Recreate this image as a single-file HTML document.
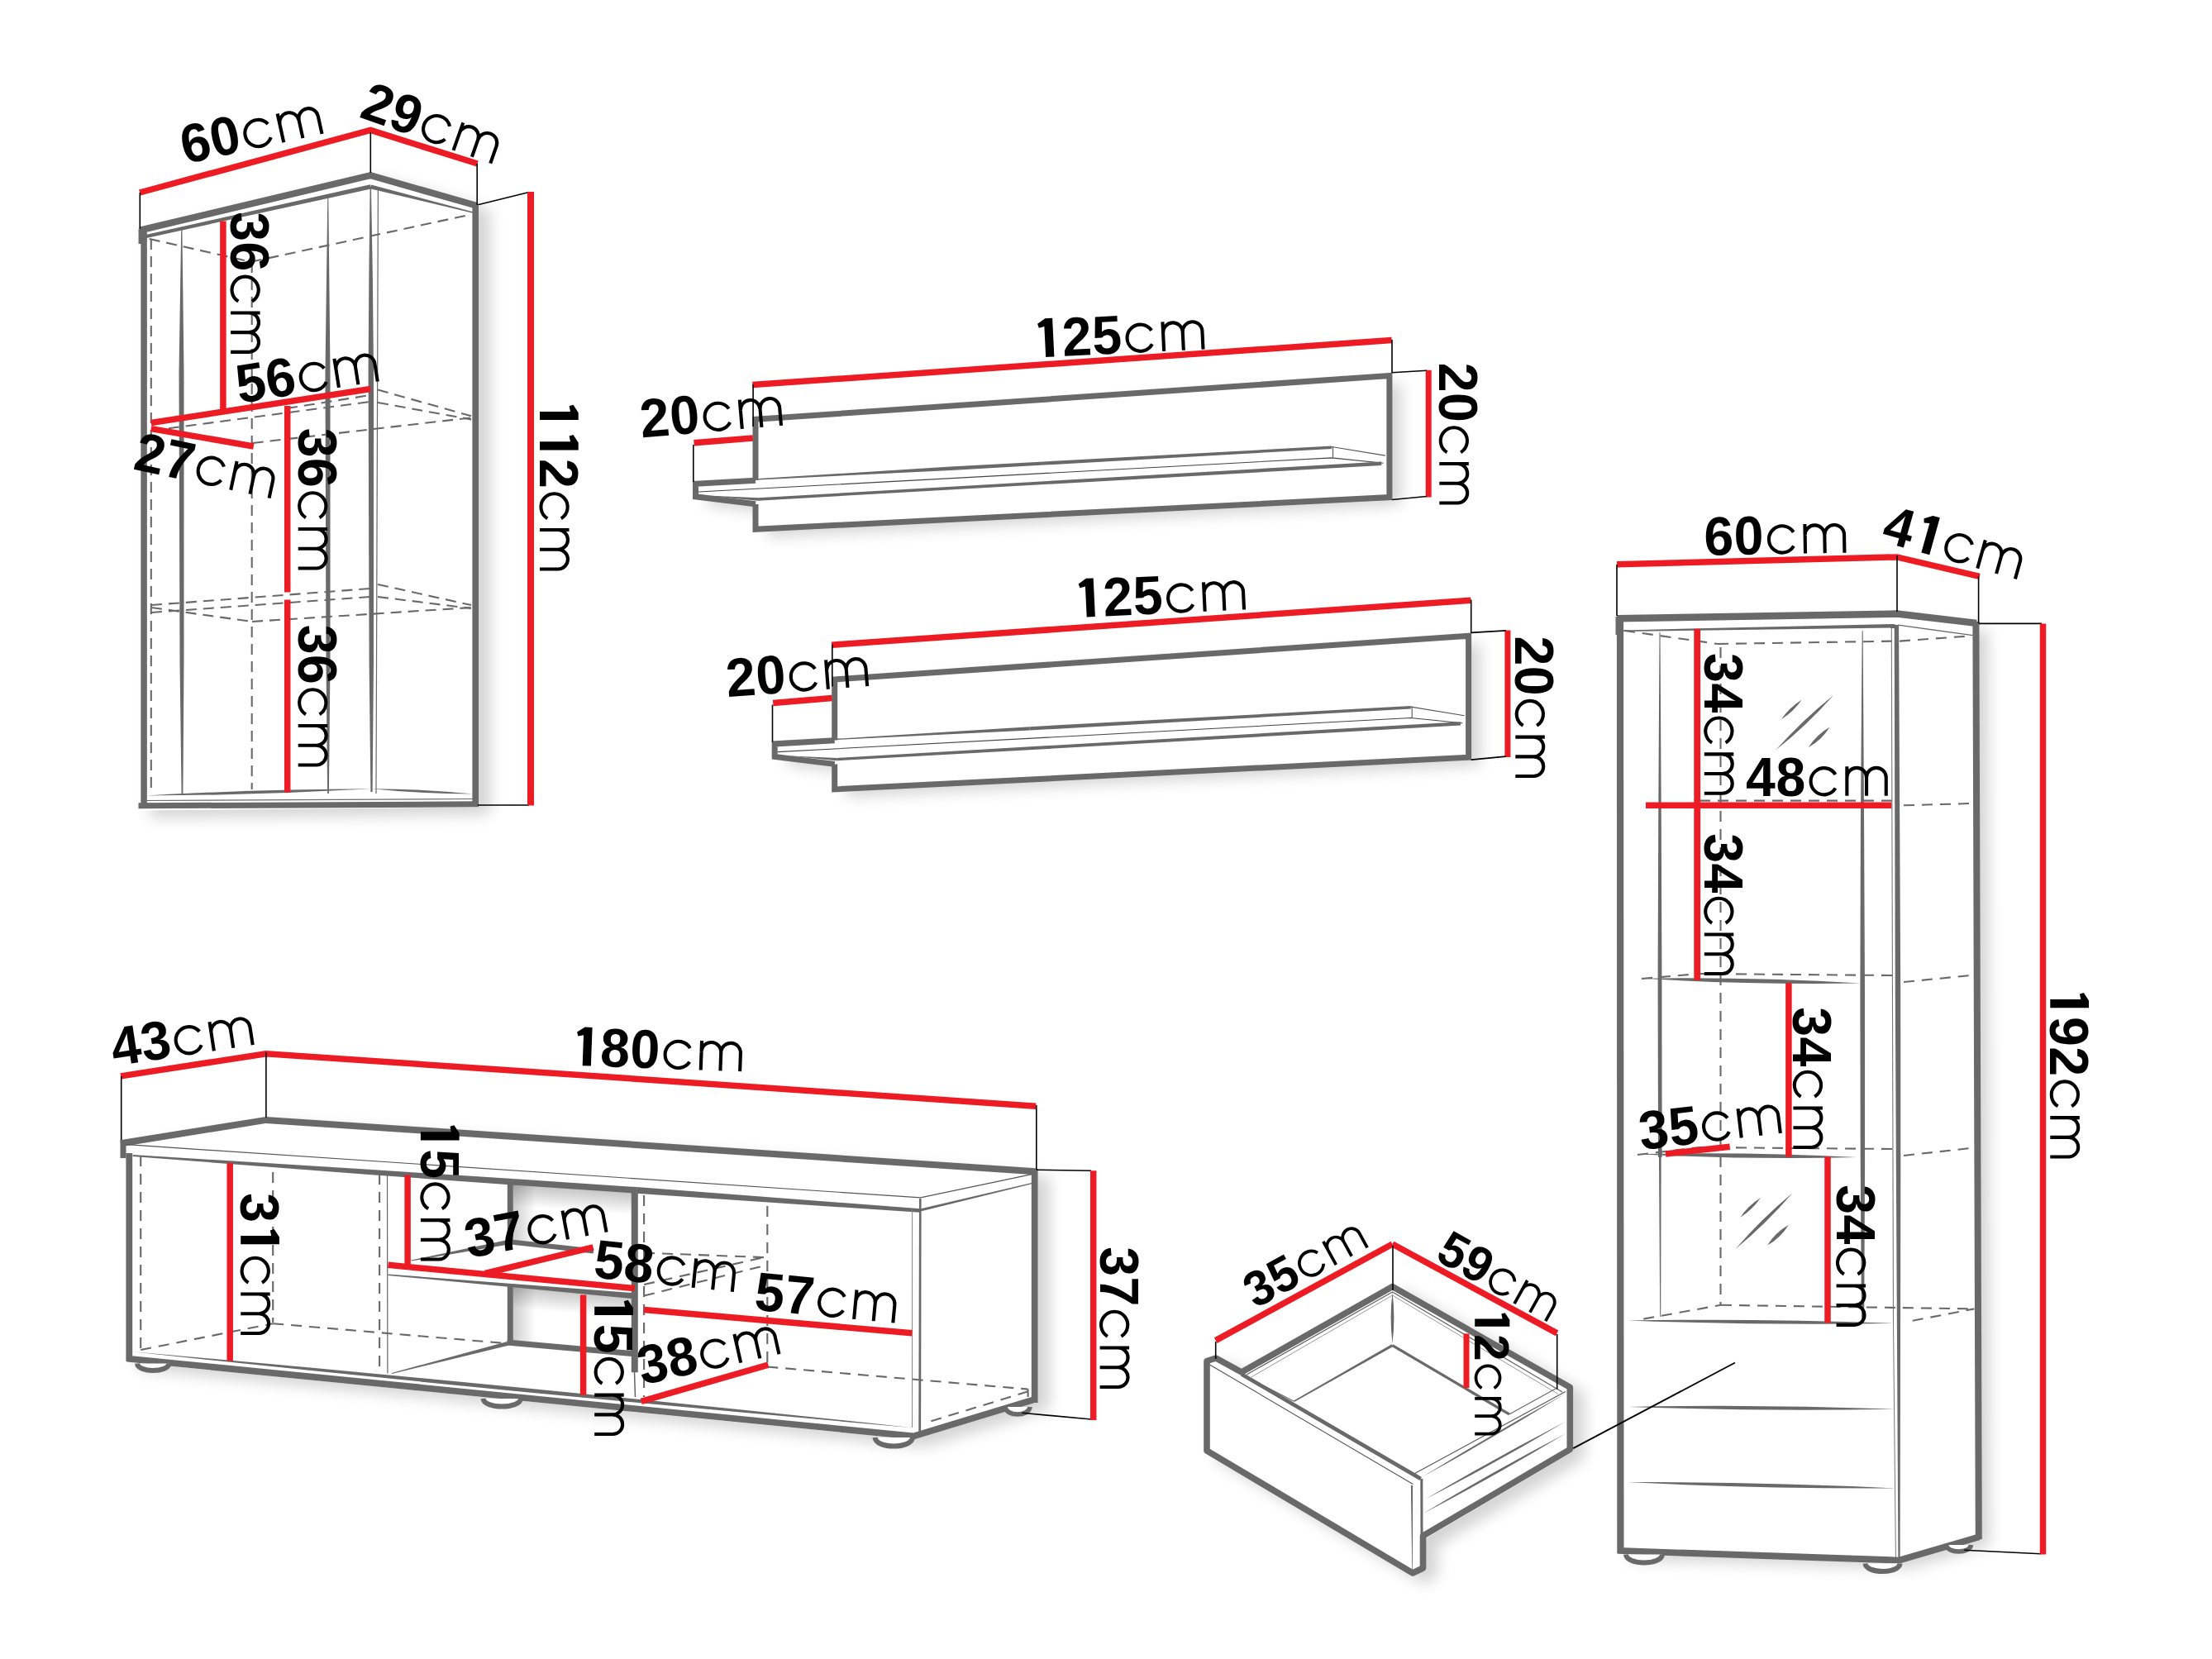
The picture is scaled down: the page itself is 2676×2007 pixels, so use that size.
<!DOCTYPE html>
<html><head><meta charset="utf-8"><title>Furniture dimensions</title>
<style>
html,body{margin:0;padding:0;background:#fff;}
body{width:2676px;height:2007px;overflow:hidden;}
svg{display:block;font-family:"Liberation Sans",sans-serif;fill:#000;}
</style></head><body>
<svg xmlns="http://www.w3.org/2000/svg" width="2676" height="2007" viewBox="0 0 2676 2007">
<defs>

<filter id="thin" x="-5%" y="-5%" width="110%" height="110%"><feGaussianBlur stdDeviation="0.9"/><feComponentTransfer><feFuncA type="linear" slope="3.5" intercept="-2.3"/></feComponentTransfer></filter>
<linearGradient id="gTop" gradientUnits="userSpaceOnUse" x1="620" y1="1433.5" x2="618.2" y2="1459.5"><stop offset="0" stop-color="#000" stop-opacity="0.22"/><stop offset="1" stop-color="#000" stop-opacity="0"/></linearGradient>
<linearGradient id="gTop2" gradientUnits="userSpaceOnUse" x1="620" y1="1557" x2="618" y2="1583"><stop offset="0" stop-color="#000" stop-opacity="0.22"/><stop offset="1" stop-color="#000" stop-opacity="0"/></linearGradient>
<linearGradient id="gLeft" gradientUnits="userSpaceOnUse" x1="620" y1="0" x2="648" y2="0"><stop offset="0" stop-color="#000" stop-opacity="0.2"/><stop offset="1" stop-color="#000" stop-opacity="0"/></linearGradient>
<linearGradient id="shR" x1="0" x2="1" y1="0" y2="0"><stop offset="0" stop-color="#000" stop-opacity="0.28"/><stop offset="1" stop-color="#000" stop-opacity="0"/></linearGradient>
<linearGradient id="shD" x1="0" x2="0" y1="0" y2="1"><stop offset="0" stop-color="#000" stop-opacity="0.25"/><stop offset="1" stop-color="#000" stop-opacity="0"/></linearGradient>
<filter id="blur6" x="-20%" y="-20%" width="140%" height="140%"><feGaussianBlur stdDeviation="6"/></filter>
<filter id="blur10" x="-30%" y="-60%" width="160%" height="220%"><feGaussianBlur stdDeviation="9"/></filter>

</defs>
<polygon points="167.5,275 448.3,208 579,245 579,976.5 167.5,980.5" fill="#000" opacity="0.17" filter="url(#blur10)" transform="translate(14,9)"/>
<polygon points="914,507 1681,454.6 1681,601.6 914,640.3 914,611 841.5,601.5 841.5,585 914,581" fill="#000" opacity="0.17" filter="url(#blur10)" transform="translate(14,9)"/>
<polygon points="1009.7,821.6 1776.7,769.2 1776.7,916.2 1009.7,954.9 1009.7,925.6 937.2,916.1 937.2,899.6 1009.7,895.6" fill="#000" opacity="0.17" filter="url(#blur10)" transform="translate(14,9)"/>
<polygon points="145.5,1380 322,1351 1255.5,1414 1255.5,1696 1105,1741.5 152.5,1647.5" fill="#000" opacity="0.17" filter="url(#blur10)" transform="translate(14,9)"/>
<polygon points="1956,748 2295,742.6 2391,754 2393,1860 2297.5,1888 1957,1878" fill="#000" opacity="0.17" filter="url(#blur10)" transform="translate(14,9)"/>
<polygon points="1456.5,1645 1471,1639 1502,1656 1684.5,1552 1903,1676 1903,1756 1725,1861 1725,1899 1709,1907 1456.5,1757" fill="#000" opacity="0.17" filter="url(#blur10)" transform="translate(14,9)"/>
<polygon points="167.5,275 448.3,208 579,245 579,976.5 167.5,980.5" fill="#fff"/>
<polygon points="914,507 1681,454.6 1681,601.6 914,640.3 914,611 841.5,601.5 841.5,585 914,581" fill="#fff"/>
<polygon points="1009.7,821.6 1776.7,769.2 1776.7,916.2 1009.7,954.9 1009.7,925.6 937.2,916.1 937.2,899.6 1009.7,895.6" fill="#fff"/>
<polygon points="145.5,1380 322,1351 1255.5,1414 1255.5,1696 1105,1741.5 152.5,1647.5" fill="#fff"/>
<polygon points="1956,748 2295,742.6 2391,754 2393,1860 2297.5,1888 1957,1878" fill="#fff"/>
<polygon points="1456.5,1645 1471,1639 1502,1656 1684.5,1552 1903,1676 1903,1756 1725,1861 1725,1899 1709,1907 1456.5,1757" fill="#fff"/>
<polygon points="620.8,1432 764,1441.5 764,1513 620.8,1501" fill="url(#gTop)"/>
<polygon points="620.8,1432 764,1441.5 764,1513 620.8,1501" fill="url(#gLeft)"/>
<polygon points="620.8,1556 764,1567 764,1636 620.8,1623" fill="url(#gTop2)"/>
<polygon points="620.8,1556 764,1567 764,1636 620.8,1623" fill="url(#gLeft)"/>
<polyline points="169.5,278.5 448.3,212.2 577.3,249" fill="none" stroke="#696969" stroke-width="8" stroke-linejoin="miter" stroke-linecap="butt"/>
<polygon points="175.0,288.4 448.9,228.4 447.7,223.2 174.2,284.6" fill="#696969"/>
<polygon points="447.7,228.2 571.8,257.7 572.2,256.3 448.9,223.4" fill="#696969"/>
<line x1="171.3" y1="277" x2="171.3" y2="295" stroke="#696969" stroke-width="7.5" stroke-linecap="butt"/>
<line x1="174.1" y1="281" x2="174.1" y2="977" stroke="#696969" stroke-width="7.5" stroke-linecap="butt"/>
<line x1="575.2" y1="249" x2="575.2" y2="975" stroke="#696969" stroke-width="7.6" stroke-linecap="butt"/>
<line x1="167.5" y1="974.8" x2="579" y2="972.8" stroke="#696969" stroke-width="7" stroke-linecap="butt"/>
<polygon points="447.6,228.0 446.4,330.0 450.8,330.0 449.0,228.0" fill="#696969"/>
<polygon points="446.4,330.0 445.6,450.0 452.0,450.0 450.8,330.0" fill="#696969"/>
<polygon points="445.6,450.0 446.6,800.0 452.0,800.0 452.0,450.0" fill="#696969"/>
<polygon points="446.6,800.0 448.4,958.0 450.6,958.0 452.0,800.0" fill="#696969"/>
<line x1="457.4" y1="230" x2="455" y2="960" stroke="#696969" stroke-width="1.2" stroke-linecap="butt"/>
<polygon points="219.2,277.0 216.5,450.0 222.5,450.0 220.4,277.0" fill="#696969"/>
<polygon points="216.5,450.0 217.5,800.0 222.5,800.0 222.5,450.0" fill="#696969"/>
<polygon points="217.5,800.0 219.6,962.0 221.4,962.0 222.5,800.0" fill="#696969"/>
<polygon points="396.3,239.0 393.5,450.0 399.5,450.0 397.3,239.0" fill="#696969"/>
<polygon points="393.5,450.0 394.5,800.0 399.5,800.0 399.5,450.0" fill="#696969"/>
<polygon points="394.5,800.0 396.1,960.0 397.9,960.0 399.5,800.0" fill="#696969"/>
<path d="M176.0,962.5 Q312.9,962.0 449.5,954.3 Q312.6,954.8 176.0,962.5Z" fill="#696969"/>
<path d="M449.5,954.3 Q510.6,960.4 572.0,960.5 Q510.9,954.4 449.5,954.3Z" fill="#696969"/>
<line x1="174" y1="968.5" x2="572" y2="966.5" stroke="#696969" stroke-width="1.2" stroke-linecap="butt"/>
<line x1="182.8" y1="289" x2="182.8" y2="955" stroke="#696969" stroke-width="2.1" stroke-linecap="butt" stroke-dasharray="13 8"/>
<line x1="180.7" y1="289" x2="303.7" y2="316.8" stroke="#696969" stroke-width="2.1" stroke-linecap="butt" stroke-dasharray="13 8"/>
<line x1="303.7" y1="316.8" x2="570" y2="259.4" stroke="#696969" stroke-width="2.1" stroke-linecap="butt" stroke-dasharray="13 8"/>
<line x1="304.7" y1="317" x2="304.7" y2="955" stroke="#696969" stroke-width="2.1" stroke-linecap="butt" stroke-dasharray="13 8"/>
<line x1="183" y1="521" x2="448" y2="486" stroke="#696969" stroke-width="2.1" stroke-linecap="butt" stroke-dasharray="13 8"/>
<line x1="457" y1="471.5" x2="570" y2="503.3" stroke="#696969" stroke-width="2.1" stroke-linecap="butt" stroke-dasharray="13 8"/>
<line x1="457" y1="487" x2="570" y2="507.4" stroke="#696969" stroke-width="2.1" stroke-linecap="butt" stroke-dasharray="13 8"/>
<line x1="305.7" y1="536" x2="570" y2="505.3" stroke="#696969" stroke-width="2.1" stroke-linecap="butt" stroke-dasharray="13 8"/>
<line x1="347" y1="494" x2="448" y2="478" stroke="#696969" stroke-width="2.1" stroke-linecap="butt" stroke-dasharray="13 8"/>
<line x1="183" y1="732" x2="448" y2="712" stroke="#696969" stroke-width="2.1" stroke-linecap="butt" stroke-dasharray="13 8"/>
<line x1="183" y1="741" x2="448" y2="722" stroke="#696969" stroke-width="2.1" stroke-linecap="butt" stroke-dasharray="13 8"/>
<line x1="457" y1="707" x2="570" y2="732" stroke="#696969" stroke-width="2.1" stroke-linecap="butt" stroke-dasharray="13 8"/>
<line x1="457" y1="722" x2="570" y2="736" stroke="#696969" stroke-width="2.1" stroke-linecap="butt" stroke-dasharray="13 8"/>
<line x1="183" y1="735" x2="305" y2="752" stroke="#696969" stroke-width="2.1" stroke-linecap="butt" stroke-dasharray="13 8"/>
<line x1="305" y1="752" x2="570" y2="735" stroke="#696969" stroke-width="2.1" stroke-linecap="butt" stroke-dasharray="13 8"/>
<polyline points="914,581 914,507.3 1680.9,454.6 1680.9,601.6 914,640.3 914,610" fill="none" stroke="#696969" stroke-width="7" stroke-linejoin="miter" stroke-linecap="butt"/>
<polyline points="914,581.2 841.5,585.3 841.5,600.8 914,609.8" fill="none" stroke="#696969" stroke-width="7" stroke-linejoin="miter" stroke-linecap="butt"/>
<polygon points="917.2,580.4 1150.1,569.0 1149.9,564.6 917.2,579.0" fill="#696969"/>
<polygon points="1150.1,569.0 1611.2,542.9 1611.0,539.5 1149.9,564.6" fill="#696969"/>
<polyline points="845,595 1611.1,553.9 1673.5,560.2" fill="none" stroke="#444" stroke-width="1.1" stroke-linejoin="miter" stroke-linecap="butt"/>
<line x1="1611.1" y1="540.5" x2="1675.8" y2="551.1" stroke="#555" stroke-width="1.1" stroke-linecap="butt"/>
<line x1="1612.5" y1="540" x2="1612.5" y2="553.5" stroke="#555" stroke-width="1.1" stroke-linecap="butt"/>
<polygon points="861.0,600.2 916.9,605.7 917.1,602.3 861.0,599.8" fill="#696969"/>
<polygon points="917.1,605.7 1671.3,563.0 1671.1,558.6 916.9,602.3" fill="#696969"/>
<polyline points="1009.7,895.6 1009.7,821.9000000000001 1776.6000000000001,769.2 1776.6000000000001,916.2 1009.7,954.9 1009.7,924.6" fill="none" stroke="#696969" stroke-width="7" stroke-linejoin="miter" stroke-linecap="butt"/>
<polyline points="1009.7,895.8000000000001 937.2,899.9 937.2,915.4 1009.7,924.4" fill="none" stroke="#696969" stroke-width="7" stroke-linejoin="miter" stroke-linecap="butt"/>
<polygon points="1012.9,895.0 1245.8,883.6 1245.6,879.2 1012.9,893.6" fill="#696969"/>
<polygon points="1245.8,883.6 1706.9,857.5 1706.7,854.1 1245.6,879.2" fill="#696969"/>
<polyline points="940.7,909.6 1706.8,868.5 1769.2,874.8000000000001" fill="none" stroke="#444" stroke-width="1.1" stroke-linejoin="miter" stroke-linecap="butt"/>
<line x1="1706.8" y1="855.1" x2="1771.5" y2="865.7" stroke="#555" stroke-width="1.1" stroke-linecap="butt"/>
<line x1="1708.2" y1="854.6" x2="1708.2" y2="868.1" stroke="#555" stroke-width="1.1" stroke-linecap="butt"/>
<polygon points="956.7,914.8 1012.6,920.3 1012.8,916.9 956.7,914.4" fill="#696969"/>
<polygon points="1012.8,920.3 1767.0,877.6 1766.8,873.2 1012.6,916.9" fill="#696969"/>
<polyline points="146,1383.3 321.9,1354.9 1252.6,1417.3" fill="none" stroke="#696969" stroke-width="8" stroke-linejoin="miter" stroke-linecap="butt"/>
<line x1="149" y1="1379.5" x2="149" y2="1401" stroke="#696969" stroke-width="7" stroke-linecap="butt"/>
<line x1="156.3" y1="1395" x2="156.3" y2="1647" stroke="#696969" stroke-width="7.8" stroke-linecap="butt"/>
<polyline points="153.9,1643.6 1105,1737.5 1250,1693.6" fill="none" stroke="#696969" stroke-width="7.8" stroke-linejoin="miter" stroke-linecap="butt"/>
<line x1="1251.7" y1="1414" x2="1251.7" y2="1697" stroke="#696969" stroke-width="7.8" stroke-linecap="butt"/>
<polyline points="153.9,1384.7 1113.6,1448.9 1248.1,1420.7" fill="none" stroke="#555" stroke-width="1.2" stroke-linejoin="miter" stroke-linecap="butt"/>
<polygon points="160.6,1399.0 449.8,1421.3 450.2,1415.1 160.8,1397.0" fill="#696969"/>
<polygon points="449.8,1421.3 619.7,1433.5 620.3,1425.9 450.2,1415.1" fill="#696969"/>
<polygon points="619.7,1433.5 769.7,1443.7 770.3,1436.1 620.3,1425.9" fill="#696969"/>
<polygon points="769.7,1443.7 1113.1,1466.8 1113.5,1462.2 770.3,1436.1" fill="#696969"/>
<polygon points="1113.7,1465.5 1248.3,1432.2 1247.9,1431.0 1112.9,1462.5" fill="#696969"/>
<polygon points="1112.0,1450.0 1111.3,1733.0 1114.1,1733.0 1114.6,1450.0" fill="#696969"/>
<line x1="1103.6" y1="1463" x2="1103.5" y2="1727" stroke="#888" stroke-width="1" stroke-linecap="butt"/>
<path d="M160.1,1635.3 Q631.6,1686.0 1104.0,1727.2 Q632.5,1676.5 160.1,1635.3Z" fill="#696969"/>
<path d="M166,1649.5 C167,1660.805 203.5,1660.805 204.5,1649.5" fill="#fff" stroke="#696969" stroke-width="6" />
<path d="M584.5,1692 C585.5,1704.635 629,1704.635 630,1692" fill="#fff" stroke="#696969" stroke-width="6" />
<path d="M1058.5,1739 C1059.5,1752.965 1103,1752.965 1104,1739" fill="#fff" stroke="#696969" stroke-width="6" />
<path d="M1216,1702 C1217,1713.97 1245,1713.97 1246,1702" fill="#fff" stroke="#696969" stroke-width="5.5" />
<line x1="170.2" y1="1398" x2="170.2" y2="1633" stroke="#696969" stroke-width="2.1" stroke-linecap="butt" stroke-dasharray="13 9"/>
<line x1="330.2" y1="1418" x2="330.2" y2="1600" stroke="#696969" stroke-width="2.1" stroke-linecap="butt" stroke-dasharray="13 9"/>
<line x1="459.1" y1="1420" x2="459.1" y2="1661" stroke="#696969" stroke-width="2.1" stroke-linecap="butt" stroke-dasharray="13 9"/>
<line x1="170.2" y1="1633" x2="330.2" y2="1601.2" stroke="#696969" stroke-width="2.1" stroke-linecap="butt" stroke-dasharray="13 9"/>
<line x1="330.2" y1="1601.2" x2="614" y2="1625.3" stroke="#696969" stroke-width="2.1" stroke-linecap="butt" stroke-dasharray="13 9"/>
<line x1="468.5" y1="1420.5" x2="468.9" y2="1661.5" stroke="#666" stroke-width="1.2" stroke-linecap="butt"/>
<polygon points="497.6,1525.5 615.1,1505.5 614.1,1500.1 497.4,1524.5" fill="#696969"/>
<polygon points="474.0,1661.9 614.8,1627.8 613.6,1623.0 473.8,1660.9" fill="#696969"/>
<line x1="617.3" y1="1503" x2="617.3" y2="1430" stroke="#696969" stroke-width="7" stroke-linecap="butt"/>
<line x1="613.5" y1="1502.1" x2="718" y2="1513.6" stroke="#696969" stroke-width="6" stroke-linecap="butt"/>
<line x1="617.3" y1="1624.5" x2="617.3" y2="1553" stroke="#696969" stroke-width="7" stroke-linecap="butt"/>
<line x1="613.5" y1="1624.1" x2="767" y2="1637.8" stroke="#696969" stroke-width="7" stroke-linecap="butt"/>
<line x1="767.8" y1="1443" x2="767.8" y2="1660.3" stroke="#696969" stroke-width="8" stroke-linecap="butt"/>
<line x1="767.5" y1="1660" x2="768.5" y2="1690" stroke="#666" stroke-width="1.5" stroke-linecap="butt"/>
<polygon points="469.3,1542.9 767.5,1571.3 768.1,1564.3 469.5,1541.5" fill="#696969"/>
<line x1="779.1" y1="1446" x2="779.1" y2="1690" stroke="#696969" stroke-width="2.1" stroke-linecap="butt" stroke-dasharray="13 9"/>
<line x1="928.3" y1="1459" x2="928.3" y2="1649" stroke="#696969" stroke-width="2.1" stroke-linecap="butt" stroke-dasharray="13 9"/>
<line x1="779.1" y1="1515.6" x2="928.2" y2="1521.3" stroke="#696969" stroke-width="2.1" stroke-linecap="butt" stroke-dasharray="13 9"/>
<line x1="779.1" y1="1554" x2="928.2" y2="1520.1" stroke="#696969" stroke-width="2.1" stroke-linecap="butt" stroke-dasharray="13 9"/>
<line x1="779.1" y1="1567.6" x2="928.2" y2="1530.3" stroke="#696969" stroke-width="2.1" stroke-linecap="butt" stroke-dasharray="13 9"/>
<line x1="928.3" y1="1653.5" x2="1243.6" y2="1680.6" stroke="#696969" stroke-width="2.1" stroke-linecap="butt" stroke-dasharray="13 9"/>
<line x1="1244" y1="1683.3" x2="1118" y2="1721.8" stroke="#696969" stroke-width="2.1" stroke-linecap="butt" stroke-dasharray="13 9"/>
<line x1="1243.6" y1="1680.6" x2="1243.6" y2="1690" stroke="#696969" stroke-width="2.1" stroke-linecap="butt" stroke-dasharray="13 9"/>
<polyline points="1956,748.3 2295,742.6 2391.1,753.9" fill="none" stroke="#696969" stroke-width="8.5" stroke-linejoin="miter" stroke-linecap="butt"/>
<line x1="1957.5" y1="746" x2="1957.5" y2="768" stroke="#696969" stroke-width="6" stroke-linecap="butt"/>
<line x1="1960" y1="750" x2="1960.4" y2="1879" stroke="#696969" stroke-width="8.2" stroke-linecap="butt"/>
<line x1="2390.4" y1="752" x2="2393.8" y2="1862" stroke="#696969" stroke-width="8" stroke-linecap="butt"/>
<polyline points="1957,1875.9 2297.7,1887.6 2394.5,1859.2" fill="none" stroke="#696969" stroke-width="7.8" stroke-linejoin="miter" stroke-linecap="butt"/>
<polygon points="1963.9,764.0 2292.5,759.5 2292.5,754.9 1963.9,762.4" fill="#696969"/>
<line x1="2296.2" y1="756.2" x2="2386.6" y2="768.6" stroke="#666" stroke-width="1.3" stroke-linecap="butt"/>
<polygon points="2291.7,756.0 2292.8,1200.0 2299.2,1200.0 2297.1,756.0" fill="#696969"/>
<polygon points="2292.8,1200.0 2293.9,1420.0 2299.3,1420.0 2299.2,1200.0" fill="#696969"/>
<polygon points="2293.9,1420.0 2296.4,1884.0 2298.6,1884.0 2299.3,1420.0" fill="#696969"/>
<line x1="2288.3" y1="760" x2="2290.5" y2="1600" stroke="#777" stroke-width="1.1" stroke-linecap="butt"/>
<line x1="2290.5" y1="1600" x2="2293.4" y2="1884" stroke="#777" stroke-width="1" stroke-linecap="butt"/>
<polygon points="2252.7,763.0 2250.9,1000.0 2255.1,1000.0 2253.7,763.0" fill="#696969"/>
<polygon points="2250.9,1000.0 2250.4,1200.0 2256.0,1200.0 2255.1,1000.0" fill="#696969"/>
<polygon points="2250.4,1200.0 2250.7,1400.0 2256.1,1400.0 2256.0,1200.0" fill="#696969"/>
<polygon points="2250.7,1400.0 2252.0,1598.0 2255.2,1598.0 2256.1,1400.0" fill="#696969"/>
<polygon points="2007.5,765.0 2006.2,1000.0 2009.8,1000.0 2008.5,765.0" fill="#696969"/>
<polygon points="2006.2,1000.0 2005.6,1180.0 2010.4,1180.0 2009.8,1000.0" fill="#696969"/>
<polygon points="2005.6,1180.0 2006.0,1400.0 2010.6,1400.0 2010.4,1180.0" fill="#696969"/>
<polygon points="2007.0,1400.0 2008.2,1593.0 2009.2,1593.0 2009.6,1400.0" fill="#696969"/>
<path d="M1986.5,1183.8 Q2118.6,1191.6 2251.0,1189.5 Q2118.9,1181.7 1986.5,1183.8Z" fill="#696969"/>
<path d="M1982.0,1396.3 Q2114.2,1403.2 2246.5,1400.1 Q2114.3,1393.2 1982.0,1396.3Z" fill="#696969"/>
<path d="M1969.3,1597.5 Q2131.3,1603.6 2293.4,1601.0 Q2131.4,1594.9 1969.3,1597.5Z" fill="#696969"/>
<path d="M1970.7,1701.9 Q2131.4,1707.6 2292.1,1704.6 Q2131.4,1698.9 1970.7,1701.9Z" fill="#696969"/>
<path d="M1969.3,1793.1 Q2130.6,1801.1 2292.1,1800.4 Q2130.8,1792.4 1969.3,1793.1Z" fill="#696969"/>
<line x1="1965" y1="762.9" x2="2078" y2="779" stroke="#696969" stroke-width="2.1" stroke-linecap="butt" stroke-dasharray="13 9"/>
<line x1="2078" y1="779" x2="2291.7" y2="775.6" stroke="#696969" stroke-width="2.1" stroke-linecap="butt" stroke-dasharray="13 9"/>
<line x1="2298" y1="775.6" x2="2382.1" y2="769.5" stroke="#696969" stroke-width="2.1" stroke-linecap="butt" stroke-dasharray="13 9"/>
<line x1="2081.5" y1="783" x2="2081.5" y2="1578" stroke="#696969" stroke-width="2.1" stroke-linecap="butt" stroke-dasharray="13 9"/>
<line x1="2056" y1="968.6" x2="2290" y2="968.6" stroke="#696969" stroke-width="2.1" stroke-linecap="butt" stroke-dasharray="13 9"/>
<line x1="2303" y1="974.3" x2="2384.3" y2="972" stroke="#696969" stroke-width="2.1" stroke-linecap="butt" stroke-dasharray="13 9"/>
<line x1="1986" y1="1184" x2="2056" y2="1178" stroke="#696969" stroke-width="2.1" stroke-linecap="butt" stroke-dasharray="13 9"/>
<line x1="2056" y1="1178" x2="2290" y2="1180" stroke="#696969" stroke-width="2.1" stroke-linecap="butt" stroke-dasharray="13 9"/>
<line x1="2303" y1="1188" x2="2384" y2="1180" stroke="#696969" stroke-width="2.1" stroke-linecap="butt" stroke-dasharray="13 9"/>
<line x1="1981" y1="1397" x2="2056" y2="1388" stroke="#696969" stroke-width="2.1" stroke-linecap="butt" stroke-dasharray="13 9"/>
<line x1="2056" y1="1388" x2="2290" y2="1390" stroke="#696969" stroke-width="2.1" stroke-linecap="butt" stroke-dasharray="13 9"/>
<line x1="2303" y1="1398" x2="2384" y2="1389" stroke="#696969" stroke-width="2.1" stroke-linecap="butt" stroke-dasharray="13 9"/>
<line x1="1988.3" y1="1595.6" x2="2081.9" y2="1578.8" stroke="#696969" stroke-width="2.1" stroke-linecap="butt" stroke-dasharray="13 9"/>
<line x1="2081.9" y1="1578.8" x2="2388.4" y2="1583.4" stroke="#696969" stroke-width="2.1" stroke-linecap="butt" stroke-dasharray="13 9"/>
<line x1="2313.8" y1="1597.8" x2="2388.4" y2="1583.4" stroke="#696969" stroke-width="2.1" stroke-linecap="butt" stroke-dasharray="13 9"/>
<path d="M2154.9,870.3 Q2169.8,861.1 2179.8,846.6 Q2164.9,855.8 2154.9,870.3Z" fill="#696969"/>
<path d="M2148.1,907.6 Q2186.0,877.3 2218.2,840.9 Q2180.3,871.2 2148.1,907.6Z" fill="#696969"/>
<path d="M2187.7,904.2 Q2203.9,895.1 2213.7,879.4 Q2197.5,888.5 2187.7,904.2Z" fill="#696969"/>
<path d="M2105.2,1472.7 Q2120.1,1463.4 2130.0,1448.9 Q2115.1,1458.2 2105.2,1472.7Z" fill="#696969"/>
<path d="M2099.5,1511.1 Q2136.9,1480.2 2168.5,1443.3 Q2131.1,1474.2 2099.5,1511.1Z" fill="#696969"/>
<path d="M2138.0,1506.6 Q2154.2,1497.5 2164.0,1481.7 Q2147.8,1490.8 2138.0,1506.6Z" fill="#696969"/>
<path d="M1967,1880.5 C1968,1893.8 2010,1893.8 2011,1880.5" fill="#fff" stroke="#696969" stroke-width="6" />
<path d="M2256.5,1891.5 C2257.5,1904.135 2297.5,1904.135 2298.5,1891.5" fill="#fff" stroke="#696969" stroke-width="6" />
<path d="M2354.5,1869 C2355.5,1879.64 2383.5,1879.64 2384.5,1869" fill="#fff" stroke="#696969" stroke-width="5.5" />
<polygon points="1460,1646.5 1471,1643 1502,1660 1684.5,1556.5 1899.3,1678.3 1899.3,1753.5 1721.5,1858 1721.5,1897 1709,1903 1460,1755" fill="none" stroke="#696969" stroke-width="7.6" stroke-linejoin="round" stroke-linecap="butt"/>
<polygon points="1500.8,1664.5 1717.6,1791.1 1720.0,1786.9 1503.2,1660.5" fill="#696969"/>
<line x1="1463.5" y1="1651" x2="1709.4" y2="1795.5" stroke="#555" stroke-width="1.1" stroke-linecap="butt"/>
<polygon points="1706.9,1797.0 1708.3,1900.0 1708.9,1900.0 1709.1,1797.0" fill="#696969"/>
<line x1="1719.8" y1="1789" x2="1720" y2="1858" stroke="#696969" stroke-width="3" stroke-linecap="butt"/>
<polyline points="1508,1663 1684.5,1563 1890,1684" fill="none" stroke="#666" stroke-width="1.3" stroke-linejoin="miter" stroke-linecap="butt"/>
<polyline points="1512,1667 1684.5,1567 1885,1686.5" fill="none" stroke="#999" stroke-width="1" stroke-linejoin="miter" stroke-linecap="butt"/>
<path d="M1684.5,1563.5 Q1680.7,1594.2 1684.5,1625.0 Q1688.3,1594.2 1684.5,1563.5Z" fill="#696969"/>
<polygon points="1683.7,1626.2 1565.0,1694.5 1565.8,1695.9 1685.3,1629.0" fill="#696969"/>
<line x1="1565.4" y1="1695.2" x2="1503.7" y2="1663.4" stroke="#666" stroke-width="1.1" stroke-linecap="butt"/>
<line x1="1684.5" y1="1627.6" x2="1825.8" y2="1710.9" stroke="#696969" stroke-width="3.3" stroke-linecap="butt"/>
<line x1="1825.8" y1="1710.9" x2="1883.7" y2="1679" stroke="#666" stroke-width="1.1" stroke-linecap="butt"/>
<line x1="1711.6" y1="1782.5" x2="1893.8" y2="1683.4" stroke="#555" stroke-width="1.1" stroke-linecap="butt"/>
<path d="M1721.7,1786.1 Q1809.3,1737.9 1894.5,1685.6 Q1806.9,1733.8 1721.7,1786.1Z" fill="#696969"/>
<path d="M1724.6,1813.6 Q1810.9,1769.0 1894.5,1719.5 Q1808.2,1764.1 1724.6,1813.6Z" fill="#696969"/>
<path d="M1721.7,1830.9 Q1809.5,1784.9 1894.5,1734.0 Q1806.7,1780.0 1721.7,1830.9Z" fill="#696969"/>
<polyline points="169,233 448.3,157.5 577.6,198" fill="none" stroke="#ed1c24" stroke-width="7.5" stroke-linejoin="miter" stroke-linecap="butt"/>
<line x1="169.3" y1="233" x2="169.3" y2="277" stroke="#000" stroke-width="1.6" stroke-linecap="butt"/>
<line x1="448.3" y1="160" x2="448.3" y2="209" stroke="#000" stroke-width="1.6" stroke-linecap="butt"/>
<line x1="577.2" y1="198" x2="577.2" y2="248" stroke="#000" stroke-width="1.6" stroke-linecap="butt"/>
<line x1="577.2" y1="248" x2="639" y2="232.8" stroke="#000" stroke-width="1.6" stroke-linecap="butt"/>
<line x1="578" y1="974" x2="640" y2="974" stroke="#000" stroke-width="1.6" stroke-linecap="butt"/>
<line x1="642" y1="232" x2="642" y2="974.5" stroke="#ed1c24" stroke-width="8" stroke-linecap="butt"/>
<line x1="269.9" y1="267.6" x2="269.9" y2="496" stroke="#ed1c24" stroke-width="7.5" stroke-linecap="butt"/>
<line x1="182.8" y1="511.5" x2="448.2" y2="470.5" stroke="#ed1c24" stroke-width="7.5" stroke-linecap="butt"/>
<line x1="182.8" y1="518.6" x2="306.8" y2="540" stroke="#ed1c24" stroke-width="7.5" stroke-linecap="butt"/>
<line x1="347.7" y1="491" x2="347.7" y2="716.4" stroke="#ed1c24" stroke-width="7.5" stroke-linecap="butt"/>
<line x1="347.7" y1="725.4" x2="347.7" y2="958.7" stroke="#ed1c24" stroke-width="7.5" stroke-linecap="butt"/>
<line x1="910.4" y1="465.6" x2="1683.7" y2="411.6" stroke="#ed1c24" stroke-width="7.5" stroke-linecap="butt"/>
<line x1="911.1" y1="465" x2="911.1" y2="516" stroke="#000" stroke-width="1.6" stroke-linecap="butt"/>
<line x1="1684" y1="411" x2="1684" y2="451" stroke="#000" stroke-width="1.6" stroke-linecap="butt"/>
<line x1="839.5" y1="535.8" x2="910.8" y2="530" stroke="#ed1c24" stroke-width="7.5" stroke-linecap="butt"/>
<line x1="838.8" y1="538" x2="838.8" y2="583" stroke="#000" stroke-width="1.6" stroke-linecap="butt"/>
<line x1="1728.2" y1="447.8" x2="1728.2" y2="601.5" stroke="#ed1c24" stroke-width="7" stroke-linecap="butt"/>
<line x1="1684" y1="450.8" x2="1726" y2="448.3" stroke="#000" stroke-width="1.6" stroke-linecap="butt"/>
<line x1="1684" y1="604.5" x2="1726" y2="600.5" stroke="#000" stroke-width="1.6" stroke-linecap="butt"/>
<line x1="1006.1" y1="780.2" x2="1779.4" y2="726.2" stroke="#ed1c24" stroke-width="7.5" stroke-linecap="butt"/>
<line x1="1006.8000000000001" y1="779.6" x2="1006.8000000000001" y2="830.6" stroke="#000" stroke-width="1.6" stroke-linecap="butt"/>
<line x1="1779.7" y1="725.6" x2="1779.7" y2="765.6" stroke="#000" stroke-width="1.6" stroke-linecap="butt"/>
<line x1="935.2" y1="850.4" x2="1006.5" y2="844.6" stroke="#ed1c24" stroke-width="7.5" stroke-linecap="butt"/>
<line x1="934.5" y1="852.6" x2="934.5" y2="897.6" stroke="#000" stroke-width="1.6" stroke-linecap="butt"/>
<line x1="1823.9" y1="762.4000000000001" x2="1823.9" y2="916.1" stroke="#ed1c24" stroke-width="7" stroke-linecap="butt"/>
<line x1="1779.7" y1="765.4000000000001" x2="1821.7" y2="762.9000000000001" stroke="#000" stroke-width="1.6" stroke-linecap="butt"/>
<line x1="1779.7" y1="919.1" x2="1821.7" y2="915.1" stroke="#000" stroke-width="1.6" stroke-linecap="butt"/>
<polyline points="146,1301.9 321.8,1274.7 1253.2,1338.2" fill="none" stroke="#ed1c24" stroke-width="7.5" stroke-linejoin="miter" stroke-linecap="butt"/>
<line x1="146.7" y1="1302" x2="146.7" y2="1379" stroke="#000" stroke-width="1.6" stroke-linecap="butt"/>
<line x1="321.9" y1="1273" x2="321.9" y2="1352" stroke="#000" stroke-width="1.6" stroke-linecap="butt"/>
<line x1="1253.8" y1="1337" x2="1253.8" y2="1415" stroke="#000" stroke-width="1.6" stroke-linecap="butt"/>
<line x1="1254" y1="1415.3" x2="1320" y2="1416.2" stroke="#000" stroke-width="1.6" stroke-linecap="butt"/>
<line x1="1236.4" y1="1709.3" x2="1320" y2="1717" stroke="#000" stroke-width="1.6" stroke-linecap="butt"/>
<line x1="1322.7" y1="1416.2" x2="1322.7" y2="1717.9" stroke="#ed1c24" stroke-width="7.5" stroke-linecap="butt"/>
<line x1="278.2" y1="1406.9" x2="278.2" y2="1646.5" stroke="#ed1c24" stroke-width="7.5" stroke-linecap="butt"/>
<line x1="493.1" y1="1421.5" x2="493.1" y2="1529.5" stroke="#ed1c24" stroke-width="7.5" stroke-linecap="butt"/>
<line x1="469.4" y1="1530.3" x2="767.8" y2="1558.6" stroke="#ed1c24" stroke-width="7.5" stroke-linecap="butt"/>
<line x1="586.9" y1="1540.5" x2="717.6" y2="1508.8" stroke="#ed1c24" stroke-width="7.5" stroke-linecap="butt"/>
<line x1="705.6" y1="1566.5" x2="705.6" y2="1687.4" stroke="#ed1c24" stroke-width="7.5" stroke-linecap="butt"/>
<line x1="779.1" y1="1584.6" x2="1103.4" y2="1612.8" stroke="#ed1c24" stroke-width="7.5" stroke-linecap="butt"/>
<line x1="775.7" y1="1695.3" x2="929.4" y2="1651.2" stroke="#ed1c24" stroke-width="7.5" stroke-linecap="butt"/>
<polyline points="1956,682.7 2294.9,673.9 2394.8,697.4" fill="none" stroke="#ed1c24" stroke-width="7.5" stroke-linejoin="miter" stroke-linecap="butt"/>
<line x1="1956" y1="683" x2="1956" y2="745" stroke="#000" stroke-width="1.6" stroke-linecap="butt"/>
<line x1="2295" y1="672" x2="2295" y2="740" stroke="#000" stroke-width="1.6" stroke-linecap="butt"/>
<line x1="2393.6" y1="697" x2="2393.6" y2="754" stroke="#000" stroke-width="1.6" stroke-linecap="butt"/>
<line x1="2394" y1="754.4" x2="2470" y2="754.4" stroke="#000" stroke-width="1.6" stroke-linecap="butt"/>
<line x1="2376.3" y1="1875.3" x2="2468.4" y2="1879.8" stroke="#000" stroke-width="1.6" stroke-linecap="butt"/>
<line x1="2471.5" y1="754.4" x2="2471.5" y2="1880.4" stroke="#ed1c24" stroke-width="7.5" stroke-linecap="butt"/>
<line x1="2099" y1="1648.5" x2="1903.2" y2="1752.1" stroke="#000" stroke-width="1.8" stroke-linecap="butt"/>
<line x1="2053.2" y1="760.7" x2="2053.2" y2="1186" stroke="#ed1c24" stroke-width="7.8" stroke-linecap="butt"/>
<line x1="1991" y1="974.3" x2="2288.3" y2="974.3" stroke="#ed1c24" stroke-width="7.5" stroke-linecap="butt"/>
<line x1="2163.9" y1="1189" x2="2163.9" y2="1399.5" stroke="#ed1c24" stroke-width="7.5" stroke-linecap="butt"/>
<line x1="2015" y1="1395.9" x2="2092.7" y2="1387.2" stroke="#ed1c24" stroke-width="7.5" stroke-linecap="butt"/>
<line x1="2211" y1="1399.2" x2="2211" y2="1600.6" stroke="#ed1c24" stroke-width="7.5" stroke-linecap="butt"/>
<line x1="1470.7" y1="1621.6" x2="1684.5" y2="1505" stroke="#ed1c24" stroke-width="7.5" stroke-linecap="butt"/>
<line x1="1684.5" y1="1505" x2="1883.6" y2="1612.9" stroke="#ed1c24" stroke-width="7.5" stroke-linecap="butt"/>
<line x1="1470.7" y1="1623" x2="1470.7" y2="1644" stroke="#000" stroke-width="1.6" stroke-linecap="butt"/>
<line x1="1685" y1="1507" x2="1685" y2="1561" stroke="#000" stroke-width="1.6" stroke-linecap="butt"/>
<line x1="1883.7" y1="1614" x2="1883.7" y2="1680.5" stroke="#000" stroke-width="1.6" stroke-linecap="butt"/>
<line x1="1774" y1="1613.4" x2="1774" y2="1679" stroke="#ed1c24" stroke-width="7" stroke-linecap="butt"/>
<g transform="translate(226,198) rotate(-12.4)" font-size="66"><text transform="translate(-2.2,0) scale(0.975,1)" font-weight="700">6</text><text transform="translate(34.1,0) scale(0.975,1)" font-weight="700">0</text><path d="M106.15,-25.84 A16.10,16.10 0 1 0 106.15,-9.26" fill="none" stroke="#000" stroke-width="4.10"/><path d="M120.05,0 V-35.50 M120.05,-22.10 A11.85,11.85 0 0 1 143.75,-22.10 V0 M143.75,-22.10 A11.85,11.85 0 0 1 167.45,-22.10 V0" fill="none" stroke="#000" stroke-width="4.10"/></g>
<g transform="translate(435.3,142) rotate(19.4)" font-size="66"><text transform="translate(-2.2,0) scale(0.975,1)" font-weight="700">2</text><text transform="translate(34.1,0) scale(0.975,1)" font-weight="700">9</text><path d="M106.15,-25.84 A16.10,16.10 0 1 0 106.15,-9.26" fill="none" stroke="#000" stroke-width="4.10"/><path d="M120.05,0 V-35.50 M120.05,-22.10 A11.85,11.85 0 0 1 143.75,-22.10 V0 M143.75,-22.10 A11.85,11.85 0 0 1 167.45,-22.10 V0" fill="none" stroke="#000" stroke-width="4.10"/></g>
<g transform="translate(279.1,258.4) rotate(90)" font-size="66"><text transform="translate(-2.2,0) scale(0.975,1)" font-weight="700">3</text><text transform="translate(34.1,0) scale(0.975,1)" font-weight="700">6</text><path d="M106.15,-25.84 A16.10,16.10 0 1 0 106.15,-9.26" fill="none" stroke="#000" stroke-width="4.10"/><path d="M120.05,0 V-35.50 M120.05,-22.10 A11.85,11.85 0 0 1 143.75,-22.10 V0 M143.75,-22.10 A11.85,11.85 0 0 1 167.45,-22.10 V0" fill="none" stroke="#000" stroke-width="4.10"/></g>
<g transform="translate(291.4,487.7) rotate(-9)" font-size="66"><text transform="translate(-2.2,0) scale(0.975,1)" font-weight="700">5</text><text transform="translate(34.1,0) scale(0.975,1)" font-weight="700">6</text><path d="M106.15,-25.84 A16.10,16.10 0 1 0 106.15,-9.26" fill="none" stroke="#000" stroke-width="4.10"/><path d="M120.05,0 V-35.50 M120.05,-22.10 A11.85,11.85 0 0 1 143.75,-22.10 V0 M143.75,-22.10 A11.85,11.85 0 0 1 167.45,-22.10 V0" fill="none" stroke="#000" stroke-width="4.10"/></g>
<g transform="translate(161.8,567.8) rotate(12)" font-size="66"><text transform="translate(-2.2,0) scale(0.975,1)" font-weight="700">2</text><text transform="translate(34.1,0) scale(0.975,1)" font-weight="700">7</text><path d="M106.15,-25.84 A16.10,16.10 0 1 0 106.15,-9.26" fill="none" stroke="#000" stroke-width="4.10"/><path d="M120.05,0 V-35.50 M120.05,-22.10 A11.85,11.85 0 0 1 143.75,-22.10 V0 M143.75,-22.10 A11.85,11.85 0 0 1 167.45,-22.10 V0" fill="none" stroke="#000" stroke-width="4.10"/></g>
<g transform="translate(360.7,520) rotate(90)" font-size="66"><text transform="translate(-2.2,0) scale(0.975,1)" font-weight="700">3</text><text transform="translate(34.1,0) scale(0.975,1)" font-weight="700">6</text><path d="M106.15,-25.84 A16.10,16.10 0 1 0 106.15,-9.26" fill="none" stroke="#000" stroke-width="4.10"/><path d="M120.05,0 V-35.50 M120.05,-22.10 A11.85,11.85 0 0 1 143.75,-22.10 V0 M143.75,-22.10 A11.85,11.85 0 0 1 167.45,-22.10 V0" fill="none" stroke="#000" stroke-width="4.10"/></g>
<g transform="translate(360.7,758) rotate(90)" font-size="66"><text transform="translate(-2.2,0) scale(0.975,1)" font-weight="700">3</text><text transform="translate(34.1,0) scale(0.975,1)" font-weight="700">6</text><path d="M106.15,-25.84 A16.10,16.10 0 1 0 106.15,-9.26" fill="none" stroke="#000" stroke-width="4.10"/><path d="M120.05,0 V-35.50 M120.05,-22.10 A11.85,11.85 0 0 1 143.75,-22.10 V0 M143.75,-22.10 A11.85,11.85 0 0 1 167.45,-22.10 V0" fill="none" stroke="#000" stroke-width="4.10"/></g>
<g transform="translate(653,489.5) rotate(90)" font-size="66"><polygon points="0.3,-40.5 9.8,-46.7 18.6,-46.7 18.6,0.0 8.4,0.0 8.4,-37.0 1.8,-35.6" fill="#000"/><polygon points="36.6,-40.5 46.1,-46.7 54.9,-46.7 54.9,0.0 44.7,0.0 44.7,-37.0 38.1,-35.6" fill="#000"/><text transform="translate(65.6,0) scale(0.975,1)" font-weight="700">2</text><path d="M137.65,-25.84 A16.10,16.10 0 1 0 137.65,-9.26" fill="none" stroke="#000" stroke-width="4.10"/><path d="M151.55,0 V-35.50 M151.55,-22.10 A11.85,11.85 0 0 1 175.25,-22.10 V0 M175.25,-22.10 A11.85,11.85 0 0 1 198.95,-22.10 V0" fill="none" stroke="#000" stroke-width="4.10"/></g>
<g transform="translate(1256.8,432.3) rotate(-2.8)" font-size="66"><polygon points="0.3,-40.5 9.8,-46.7 18.6,-46.7 18.6,0.0 8.4,0.0 8.4,-37.0 1.8,-35.6" fill="#000"/><text transform="translate(29.3,0) scale(0.975,1)" font-weight="700">2</text><text transform="translate(65.6,0) scale(0.975,1)" font-weight="700">5</text><path d="M137.65,-25.84 A16.10,16.10 0 1 0 137.65,-9.26" fill="none" stroke="#000" stroke-width="4.10"/><path d="M151.55,0 V-35.50 M151.55,-22.10 A11.85,11.85 0 0 1 175.25,-22.10 V0 M175.25,-22.10 A11.85,11.85 0 0 1 198.95,-22.10 V0" fill="none" stroke="#000" stroke-width="4.10"/></g>
<g transform="translate(778.2,529.2) rotate(-4.9)" font-size="66"><text transform="translate(-2.2,0) scale(0.975,1)" font-weight="700">2</text><text transform="translate(34.1,0) scale(0.975,1)" font-weight="700">0</text><path d="M106.15,-25.84 A16.10,16.10 0 1 0 106.15,-9.26" fill="none" stroke="#000" stroke-width="4.10"/><path d="M120.05,0 V-35.50 M120.05,-22.10 A11.85,11.85 0 0 1 143.75,-22.10 V0 M143.75,-22.10 A11.85,11.85 0 0 1 167.45,-22.10 V0" fill="none" stroke="#000" stroke-width="4.10"/></g>
<g transform="translate(1741.3,441) rotate(90)" font-size="66"><text transform="translate(-2.2,0) scale(0.975,1)" font-weight="700">2</text><text transform="translate(34.1,0) scale(0.975,1)" font-weight="700">0</text><path d="M106.15,-25.84 A16.10,16.10 0 1 0 106.15,-9.26" fill="none" stroke="#000" stroke-width="4.10"/><path d="M120.05,0 V-35.50 M120.05,-22.10 A11.85,11.85 0 0 1 143.75,-22.10 V0 M143.75,-22.10 A11.85,11.85 0 0 1 167.45,-22.10 V0" fill="none" stroke="#000" stroke-width="4.10"/></g>
<g transform="translate(1306.3,746.9) rotate(-2.7)" font-size="66"><polygon points="0.3,-40.5 9.8,-46.7 18.6,-46.7 18.6,0.0 8.4,0.0 8.4,-37.0 1.8,-35.6" fill="#000"/><text transform="translate(29.3,0) scale(0.975,1)" font-weight="700">2</text><text transform="translate(65.6,0) scale(0.975,1)" font-weight="700">5</text><path d="M137.65,-25.84 A16.10,16.10 0 1 0 137.65,-9.26" fill="none" stroke="#000" stroke-width="4.10"/><path d="M151.55,0 V-35.50 M151.55,-22.10 A11.85,11.85 0 0 1 175.25,-22.10 V0 M175.25,-22.10 A11.85,11.85 0 0 1 198.95,-22.10 V0" fill="none" stroke="#000" stroke-width="4.10"/></g>
<g transform="translate(882.2,843.2) rotate(-4.5)" font-size="66"><text transform="translate(-2.2,0) scale(0.975,1)" font-weight="700">2</text><text transform="translate(34.1,0) scale(0.975,1)" font-weight="700">0</text><path d="M106.15,-25.84 A16.10,16.10 0 1 0 106.15,-9.26" fill="none" stroke="#000" stroke-width="4.10"/><path d="M120.05,0 V-35.50 M120.05,-22.10 A11.85,11.85 0 0 1 143.75,-22.10 V0 M143.75,-22.10 A11.85,11.85 0 0 1 167.45,-22.10 V0" fill="none" stroke="#000" stroke-width="4.10"/></g>
<g transform="translate(1833.3,771.6) rotate(90)" font-size="66"><text transform="translate(-2.2,0) scale(0.975,1)" font-weight="700">2</text><text transform="translate(34.1,0) scale(0.975,1)" font-weight="700">0</text><path d="M106.15,-25.84 A16.10,16.10 0 1 0 106.15,-9.26" fill="none" stroke="#000" stroke-width="4.10"/><path d="M120.05,0 V-35.50 M120.05,-22.10 A11.85,11.85 0 0 1 143.75,-22.10 V0 M143.75,-22.10 A11.85,11.85 0 0 1 167.45,-22.10 V0" fill="none" stroke="#000" stroke-width="4.10"/></g>
<g transform="translate(140.2,1289.5) rotate(-8.7)" font-size="66"><text transform="translate(-2.2,0) scale(0.975,1)" font-weight="700">4</text><text transform="translate(34.1,0) scale(0.975,1)" font-weight="700">3</text><path d="M106.15,-25.84 A16.10,16.10 0 1 0 106.15,-9.26" fill="none" stroke="#000" stroke-width="4.10"/><path d="M120.05,0 V-35.50 M120.05,-22.10 A11.85,11.85 0 0 1 143.75,-22.10 V0 M143.75,-22.10 A11.85,11.85 0 0 1 167.45,-22.10 V0" fill="none" stroke="#000" stroke-width="4.10"/></g>
<g transform="translate(696.3,1288.9) rotate(2.1)" font-size="66"><polygon points="0.3,-40.5 9.8,-46.7 18.6,-46.7 18.6,0.0 8.4,0.0 8.4,-37.0 1.8,-35.6" fill="#000"/><text transform="translate(29.3,0) scale(0.975,1)" font-weight="700">8</text><text transform="translate(65.6,0) scale(0.975,1)" font-weight="700">0</text><path d="M137.65,-25.84 A16.10,16.10 0 1 0 137.65,-9.26" fill="none" stroke="#000" stroke-width="4.10"/><path d="M151.55,0 V-35.50 M151.55,-22.10 A11.85,11.85 0 0 1 175.25,-22.10 V0 M175.25,-22.10 A11.85,11.85 0 0 1 198.95,-22.10 V0" fill="none" stroke="#000" stroke-width="4.10"/></g>
<g transform="translate(291.2,1445.5) rotate(90)" font-size="66"><text transform="translate(-2.2,0) scale(0.975,1)" font-weight="700">3</text><polygon points="41.4,-40.5 50.9,-46.7 59.7,-46.7 59.7,0.0 49.5,0.0 49.5,-37.0 42.9,-35.6" fill="#000"/><path d="M106.15,-25.84 A16.10,16.10 0 1 0 106.15,-9.26" fill="none" stroke="#000" stroke-width="4.10"/><path d="M120.05,0 V-35.50 M120.05,-22.10 A11.85,11.85 0 0 1 143.75,-22.10 V0 M143.75,-22.10 A11.85,11.85 0 0 1 167.45,-22.10 V0" fill="none" stroke="#000" stroke-width="4.10"/></g>
<g transform="translate(508.9,1360.9) rotate(90)" font-size="66"><polygon points="0.3,-40.5 9.8,-46.7 18.6,-46.7 18.6,0.0 8.4,0.0 8.4,-37.0 1.8,-35.6" fill="#000"/><text transform="translate(29.3,0) scale(0.975,1)" font-weight="700">5</text><path d="M101.35,-25.84 A16.10,16.10 0 1 0 101.35,-9.26" fill="none" stroke="#000" stroke-width="4.10"/><path d="M115.25,0 V-35.50 M115.25,-22.10 A11.85,11.85 0 0 1 138.95,-22.10 V0 M138.95,-22.10 A11.85,11.85 0 0 1 162.65,-22.10 V0" fill="none" stroke="#000" stroke-width="4.10"/></g>
<g transform="translate(569,1521.5) rotate(-10.6)" font-size="66"><text transform="translate(-2.2,0) scale(0.975,1)" font-weight="700">3</text><text transform="translate(34.1,0) scale(0.975,1)" font-weight="700">7</text><path d="M106.15,-25.84 A16.10,16.10 0 1 0 106.15,-9.26" fill="none" stroke="#000" stroke-width="4.10"/><path d="M120.05,0 V-35.50 M120.05,-22.10 A11.85,11.85 0 0 1 143.75,-22.10 V0 M143.75,-22.10 A11.85,11.85 0 0 1 167.45,-22.10 V0" fill="none" stroke="#000" stroke-width="4.10"/></g>
<g transform="translate(719.2,1545.5) rotate(5.9)" font-size="66"><text transform="translate(-2.2,0) scale(0.975,1)" font-weight="700">5</text><text transform="translate(34.1,0) scale(0.975,1)" font-weight="700">8</text><path d="M106.15,-25.84 A16.10,16.10 0 1 0 106.15,-9.26" fill="none" stroke="#000" stroke-width="4.10"/><path d="M120.05,0 V-35.50 M120.05,-22.10 A11.85,11.85 0 0 1 143.75,-22.10 V0 M143.75,-22.10 A11.85,11.85 0 0 1 167.45,-22.10 V0" fill="none" stroke="#000" stroke-width="4.10"/></g>
<g transform="translate(913.6,1584.6) rotate(5.4)" font-size="66"><text transform="translate(-2.2,0) scale(0.975,1)" font-weight="700">5</text><text transform="translate(34.1,0) scale(0.975,1)" font-weight="700">7</text><path d="M106.15,-25.84 A16.10,16.10 0 1 0 106.15,-9.26" fill="none" stroke="#000" stroke-width="4.10"/><path d="M120.05,0 V-35.50 M120.05,-22.10 A11.85,11.85 0 0 1 143.75,-22.10 V0 M143.75,-22.10 A11.85,11.85 0 0 1 167.45,-22.10 V0" fill="none" stroke="#000" stroke-width="4.10"/></g>
<g transform="translate(779.1,1675) rotate(-12.7)" font-size="66"><text transform="translate(-2.2,0) scale(0.975,1)" font-weight="700">3</text><text transform="translate(34.1,0) scale(0.975,1)" font-weight="700">8</text><path d="M106.15,-25.84 A16.10,16.10 0 1 0 106.15,-9.26" fill="none" stroke="#000" stroke-width="4.10"/><path d="M120.05,0 V-35.50 M120.05,-22.10 A11.85,11.85 0 0 1 143.75,-22.10 V0 M143.75,-22.10 A11.85,11.85 0 0 1 167.45,-22.10 V0" fill="none" stroke="#000" stroke-width="4.10"/></g>
<g transform="translate(719.2,1572.4) rotate(90)" font-size="66"><polygon points="0.3,-40.5 9.8,-46.7 18.6,-46.7 18.6,0.0 8.4,0.0 8.4,-37.0 1.8,-35.6" fill="#000"/><text transform="translate(29.3,0) scale(0.975,1)" font-weight="700">5</text><path d="M101.35,-25.84 A16.10,16.10 0 1 0 101.35,-9.26" fill="none" stroke="#000" stroke-width="4.10"/><path d="M115.25,0 V-35.50 M115.25,-22.10 A11.85,11.85 0 0 1 138.95,-22.10 V0 M138.95,-22.10 A11.85,11.85 0 0 1 162.65,-22.10 V0" fill="none" stroke="#000" stroke-width="4.10"/></g>
<g transform="translate(1330.6,1510.5) rotate(90)" font-size="66"><text transform="translate(-2.2,0) scale(0.975,1)" font-weight="700">3</text><text transform="translate(34.1,0) scale(0.975,1)" font-weight="700">7</text><path d="M106.15,-25.84 A16.10,16.10 0 1 0 106.15,-9.26" fill="none" stroke="#000" stroke-width="4.10"/><path d="M120.05,0 V-35.50 M120.05,-22.10 A11.85,11.85 0 0 1 143.75,-22.10 V0 M143.75,-22.10 A11.85,11.85 0 0 1 167.45,-22.10 V0" fill="none" stroke="#000" stroke-width="4.10"/></g>
<g transform="translate(2064,671.6) rotate(-1)" font-size="66"><text transform="translate(-2.2,0) scale(0.975,1)" font-weight="700">6</text><text transform="translate(34.1,0) scale(0.975,1)" font-weight="700">0</text><path d="M106.15,-25.84 A16.10,16.10 0 1 0 106.15,-9.26" fill="none" stroke="#000" stroke-width="4.10"/><path d="M120.05,0 V-35.50 M120.05,-22.10 A11.85,11.85 0 0 1 143.75,-22.10 V0 M143.75,-22.10 A11.85,11.85 0 0 1 167.45,-22.10 V0" fill="none" stroke="#000" stroke-width="4.10"/></g>
<g transform="translate(2276.7,655.1) rotate(15.7)" font-size="66"><text transform="translate(-2.2,0) scale(0.975,1)" font-weight="700">4</text><polygon points="41.4,-40.5 50.9,-46.7 59.7,-46.7 59.7,0.0 49.5,0.0 49.5,-37.0 42.9,-35.6" fill="#000"/><path d="M106.15,-25.84 A16.10,16.10 0 1 0 106.15,-9.26" fill="none" stroke="#000" stroke-width="4.10"/><path d="M120.05,0 V-35.50 M120.05,-22.10 A11.85,11.85 0 0 1 143.75,-22.10 V0 M143.75,-22.10 A11.85,11.85 0 0 1 167.45,-22.10 V0" fill="none" stroke="#000" stroke-width="4.10"/></g>
<g transform="translate(2061.8,792.3) rotate(90)" font-size="66"><text transform="translate(-2.2,0) scale(0.975,1)" font-weight="700">3</text><text transform="translate(34.1,0) scale(0.975,1)" font-weight="700">4</text><path d="M106.15,-25.84 A16.10,16.10 0 1 0 106.15,-9.26" fill="none" stroke="#000" stroke-width="4.10"/><path d="M120.05,0 V-35.50 M120.05,-22.10 A11.85,11.85 0 0 1 143.75,-22.10 V0 M143.75,-22.10 A11.85,11.85 0 0 1 167.45,-22.10 V0" fill="none" stroke="#000" stroke-width="4.10"/></g>
<g transform="translate(2114.3,962.8) rotate(0)" font-size="66"><text transform="translate(-2.2,0) scale(0.975,1)" font-weight="700">4</text><text transform="translate(34.1,0) scale(0.975,1)" font-weight="700">8</text><path d="M106.15,-25.84 A16.10,16.10 0 1 0 106.15,-9.26" fill="none" stroke="#000" stroke-width="4.10"/><path d="M120.05,0 V-35.50 M120.05,-22.10 A11.85,11.85 0 0 1 143.75,-22.10 V0 M143.75,-22.10 A11.85,11.85 0 0 1 167.45,-22.10 V0" fill="none" stroke="#000" stroke-width="4.10"/></g>
<g transform="translate(2061.8,1010.5) rotate(90)" font-size="66"><text transform="translate(-2.2,0) scale(0.975,1)" font-weight="700">3</text><text transform="translate(34.1,0) scale(0.975,1)" font-weight="700">4</text><path d="M106.15,-25.84 A16.10,16.10 0 1 0 106.15,-9.26" fill="none" stroke="#000" stroke-width="4.10"/><path d="M120.05,0 V-35.50 M120.05,-22.10 A11.85,11.85 0 0 1 143.75,-22.10 V0 M143.75,-22.10 A11.85,11.85 0 0 1 167.45,-22.10 V0" fill="none" stroke="#000" stroke-width="4.10"/></g>
<g transform="translate(2169.4,1220.5) rotate(90)" font-size="66"><text transform="translate(-2.2,0) scale(0.975,1)" font-weight="700">3</text><text transform="translate(34.1,0) scale(0.975,1)" font-weight="700">4</text><path d="M106.15,-25.84 A16.10,16.10 0 1 0 106.15,-9.26" fill="none" stroke="#000" stroke-width="4.10"/><path d="M120.05,0 V-35.50 M120.05,-22.10 A11.85,11.85 0 0 1 143.75,-22.10 V0 M143.75,-22.10 A11.85,11.85 0 0 1 167.45,-22.10 V0" fill="none" stroke="#000" stroke-width="4.10"/></g>
<g transform="translate(1987.6,1391) rotate(-6.9)" font-size="66"><text transform="translate(-2.2,0) scale(0.975,1)" font-weight="700">3</text><text transform="translate(34.1,0) scale(0.975,1)" font-weight="700">5</text><path d="M106.15,-25.84 A16.10,16.10 0 1 0 106.15,-9.26" fill="none" stroke="#000" stroke-width="4.10"/><path d="M120.05,0 V-35.50 M120.05,-22.10 A11.85,11.85 0 0 1 143.75,-22.10 V0 M143.75,-22.10 A11.85,11.85 0 0 1 167.45,-22.10 V0" fill="none" stroke="#000" stroke-width="4.10"/></g>
<g transform="translate(2221.6,1435.4) rotate(90)" font-size="66"><text transform="translate(-2.2,0) scale(0.975,1)" font-weight="700">3</text><text transform="translate(34.1,0) scale(0.975,1)" font-weight="700">4</text><path d="M106.15,-25.84 A16.10,16.10 0 1 0 106.15,-9.26" fill="none" stroke="#000" stroke-width="4.10"/><path d="M120.05,0 V-35.50 M120.05,-22.10 A11.85,11.85 0 0 1 143.75,-22.10 V0 M143.75,-22.10 A11.85,11.85 0 0 1 167.45,-22.10 V0" fill="none" stroke="#000" stroke-width="4.10"/></g>
<g transform="translate(2480.3,1200.6) rotate(90)" font-size="66"><polygon points="0.3,-40.5 9.8,-46.7 18.6,-46.7 18.6,0.0 8.4,0.0 8.4,-37.0 1.8,-35.6" fill="#000"/><text transform="translate(29.3,0) scale(0.975,1)" font-weight="700">9</text><text transform="translate(65.6,0) scale(0.975,1)" font-weight="700">2</text><path d="M137.65,-25.84 A16.10,16.10 0 1 0 137.65,-9.26" fill="none" stroke="#000" stroke-width="4.10"/><path d="M151.55,0 V-35.50 M151.55,-22.10 A11.85,11.85 0 0 1 175.25,-22.10 V0 M175.25,-22.10 A11.85,11.85 0 0 1 198.95,-22.10 V0" fill="none" stroke="#000" stroke-width="4.10"/></g>
<g transform="translate(1520.6,1582.5) rotate(-28.7)" font-size="60"><text transform="translate(-2.0,0) scale(0.975,1)" font-weight="700">3</text><text transform="translate(31.0,0) scale(0.975,1)" font-weight="700">5</text><path d="M96.50,-23.49 A14.64,14.64 0 1 0 96.50,-8.42" fill="none" stroke="#000" stroke-width="3.73"/><path d="M109.14,0 V-32.27 M109.14,-20.09 A10.77,10.77 0 0 1 130.68,-20.09 V0 M130.68,-20.09 A10.77,10.77 0 0 1 152.23,-20.09 V0" fill="none" stroke="#000" stroke-width="3.73"/></g>
<g transform="translate(1736.6,1524.3) rotate(29)" font-size="60"><text transform="translate(-2.0,0) scale(0.975,1)" font-weight="700">5</text><text transform="translate(31.0,0) scale(0.975,1)" font-weight="700">9</text><path d="M96.50,-23.49 A14.64,14.64 0 1 0 96.50,-8.42" fill="none" stroke="#000" stroke-width="3.73"/><path d="M109.14,0 V-32.27 M109.14,-20.09 A10.77,10.77 0 0 1 130.68,-20.09 V0 M130.68,-20.09 A10.77,10.77 0 0 1 152.23,-20.09 V0" fill="none" stroke="#000" stroke-width="3.73"/></g>
<g transform="translate(1784.2,1587.9) rotate(90)" font-size="59.5"><polygon points="0.3,-36.5 8.8,-42.1 16.8,-42.1 16.8,0.0 7.6,0.0 7.6,-33.4 1.6,-32.1" fill="#000"/><text transform="translate(26.4,0) scale(0.975,1)" font-weight="700">2</text><path d="M91.37,-23.30 A14.51,14.51 0 1 0 91.37,-8.35" fill="none" stroke="#000" stroke-width="3.70"/><path d="M103.90,0 V-32.00 M103.90,-19.92 A10.68,10.68 0 0 1 125.27,-19.92 V0 M125.27,-19.92 A10.68,10.68 0 0 1 146.63,-19.92 V0" fill="none" stroke="#000" stroke-width="3.70"/></g>
</svg>
</body></html>
